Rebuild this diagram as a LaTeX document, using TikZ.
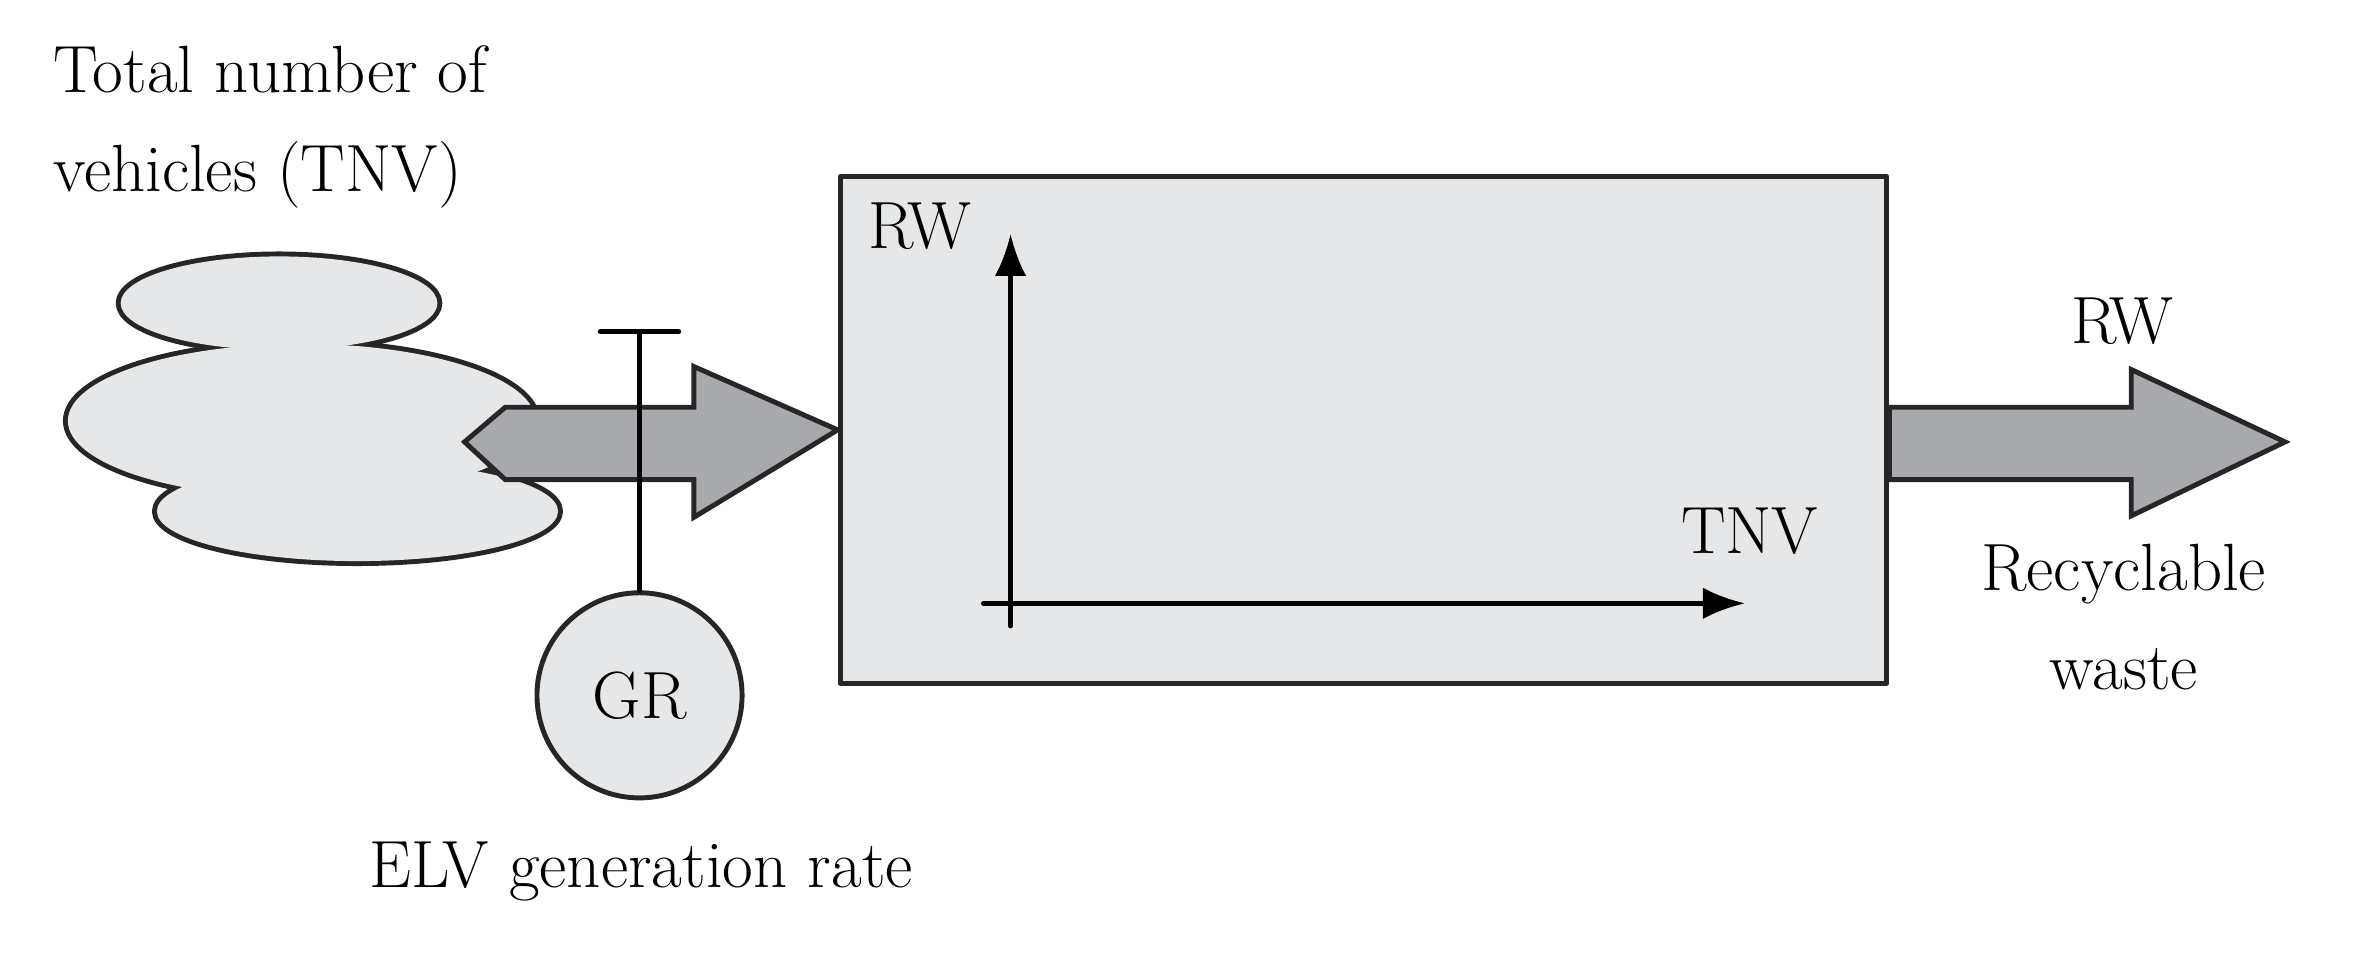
\documentclass[tikz,border=0pt]{standalone}
\usepackage{tikz}
\usetikzlibrary{positioning}
\definecolor{boxgray}{HTML}{E6E7E8}
\definecolor{arrowgray}{HTML}{A7A9AC}
\tikzset{
  lbl/.style={font=\fontsize{19}{28}\selectfont, inner sep=0pt},
  fatarrow/.style={draw=black!85, line width=1.4pt, fill=arrowgray, line join=miter},
  axis/.style={line width=1.4pt, -{Latex[length=12pt,width=9pt]}}
}
\usetikzlibrary{arrows.meta}
\begin{document}
\begin{tikzpicture}[line cap=round,line join=round,x=0.01508cm,y=-0.01508cm]
      \useasboundingbox (0,0) rectangle (1568,638);
      % cloud: outlines first, then fills on top
      \foreach \cx/\cy/\rx/\ry in {185/201/105/31,200/279/155/51,237/339/133/33}{
        \draw[line width=2.8pt, black!85] (\cx,\cy) ellipse [x radius=\rx, y radius=\ry];
      }
      \foreach \cx/\cy/\rx/\ry in {185/201/105/31,200/279/155/51,237/339/133/33}{
        \fill[boxgray] (\cx,\cy) ellipse [x radius=\rx, y radius=\ry];
      }
      \coordinate (cloud) at (200,279);

      % main box
      \node[draw=black!85, line width=1.4pt, fill=boxgray, minimum width=694*0.01508cm,
            minimum height=336*0.01508cm, inner sep=0pt] (box) at (904,285) {};
      \coordinate (ytop) at (670,155);
      \coordinate (xend) at (1157,400);
      \draw[axis] (670,415) -- (ytop);
      \draw[axis] (652,400) -- (xend);
      \node[lbl] (rwaxis) at (610,150) {RW};
      \node[lbl] (tnvaxis) at (1160,352) {TNV};

      % inflow arrow
      \draw[fatarrow] (308,293) -- (335,270) -- (460,270) -- (460,243) -- (box.west)
        -- (460,343) -- (460,318) -- (335,318) -- cycle;

      % valve and rate
      \node[draw=black!85, line width=1.4pt, fill=boxgray, circle, minimum size=136*0.01508cm,
            inner sep=0pt, lbl] (gr) at (424,461) {GR};
      \coordinate (valvetop) at (424,220);
      \draw[line width=1.4pt] (gr.north) -- (valvetop);
      \draw[line width=1.4pt] (398,220) -- (450,220);
      \node[lbl] (rate) at (425,578) {ELV generation rate};

      % outflow arrow
      \draw[fatarrow] (box.east |- 0,270) -- (1413,270) -- (1413,245) -- (1515,293)
        -- (1413,342) -- (1413,318) -- (box.east |- 0,318) -- cycle;
      \node[lbl] (rwout) at (1407,213) {RW};
      \node[lbl, align=center] (waste) at (1408,409) {Recyclable\\waste};

      \node[lbl, align=left, anchor=north west] (tnv) at (35,30) {Total number of\\vehicles (TNV)};
    \end{tikzpicture}
\end{document}
